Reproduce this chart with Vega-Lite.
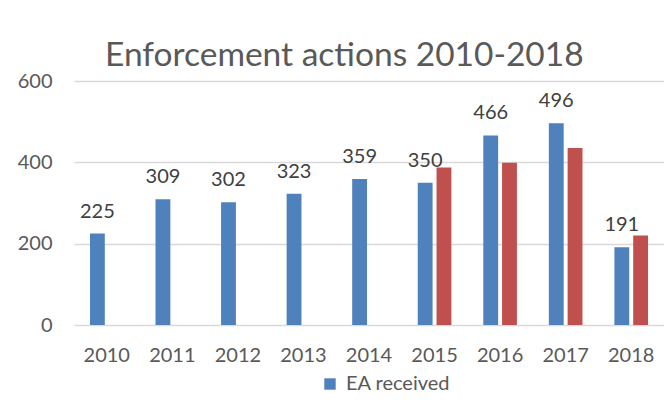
{
  "$schema": "https://vega.github.io/schema/vega-lite/v6.json",
  "autosize": {"type": "none"},
  "width": 590,
  "height": 244,
  "padding": {"left": 74, "top": 81, "right": 0, "bottom": 78},
  "background": "white",
  "config": {
    "font": "Lato",
    "view": {"stroke": null},
    "axis": {"labelFont": "Lato", "labelColor": "#595959"}
  },
  "title": {
    "text": "Enforcement actions 2010-2018",
    "font": "Lato",
    "fontSize": 33.5,
    "fontWeight": "normal",
    "color": "#595959",
    "anchor": "start",
    "frame": "group",
    "dx": 31,
    "dy": 40,
    "offset": 12,
    "baseline": "alphabetic"
  },
  "data": {
    "values": [
      {"year": "2010", "series": "EA received", "value": 225},
      {"year": "2011", "series": "EA received", "value": 309},
      {"year": "2012", "series": "EA received", "value": 302},
      {"year": "2013", "series": "EA received", "value": 323},
      {"year": "2014", "series": "EA received", "value": 359},
      {"year": "2015", "series": "EA received", "value": 350},
      {"year": "2016", "series": "EA received", "value": 466},
      {"year": "2017", "series": "EA received", "value": 496},
      {"year": "2018", "series": "EA received", "value": 191},
      {"year": "2015", "series": "EA closed", "value": 387},
      {"year": "2016", "series": "EA closed", "value": 399},
      {"year": "2017", "series": "EA closed", "value": 435},
      {"year": "2018", "series": "EA closed", "value": 220}
    ]
  },
  "encoding": {
    "x": {
      "field": "year",
      "type": "nominal",
      "scale": {"paddingInner": 0.487, "paddingOuter": 0.2435},
      "axis": {
        "title": null,
        "labelAngle": 0,
        "labelFontSize": 20,
        "labelPadding": 20,
        "ticks": false,
        "domain": false,
        "grid": false
      }
    },
    "xOffset": {
      "field": "series",
      "type": "nominal",
      "scale": {"domain": ["EA received", "EA closed"], "paddingInner": 0.21, "paddingOuter": 0}
    },
    "y": {
      "field": "value",
      "type": "quantitative",
      "scale": {"domain": [0, 600]},
      "axis": {
        "title": null,
        "values": [0, 200, 400, 600],
        "labelFontSize": 20,
        "labelPadding": 22,
        "ticks": false,
        "domain": false,
        "gridColor": "#d9d9d9",
        "gridWidth": 1.5
      }
    }
  },
  "layer": [
    {
      "mark": {"type": "bar"},
      "encoding": {
        "color": {
          "field": "series",
          "type": "nominal",
          "scale": {"domain": ["EA received", "EA closed"], "range": ["#4f81bd", "#c0504d"]},
          "legend": {
            "values": ["EA received"],
            "title": null,
            "orient": "none",
            "legendX": 246,
            "legendY": 293,
            "symbolType": "square",
            "symbolSize": 130,
            "symbolStrokeWidth": 0,
            "labelFontSize": 20,
            "labelFont": "Lato",
            "labelColor": "#595959",
            "labelOffset": 6
          }
        }
      }
    },
    {
      "transform": [{"filter": "datum.series == 'EA received'"}],
      "mark": {"type": "text", "baseline": "alphabetic", "dy": -16, "fontSize": 20, "color": "#404040"},
      "encoding": {
        "text": {"field": "value", "type": "quantitative"}
      }
    }
  ]
}
